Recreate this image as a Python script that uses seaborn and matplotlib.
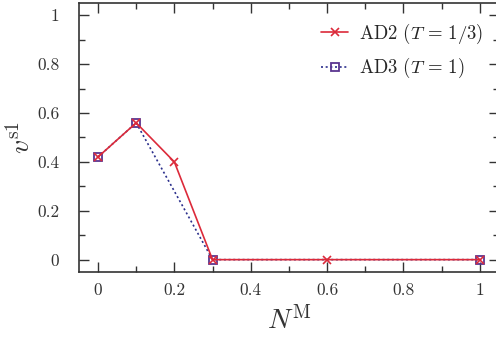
import numpy as np
import pandas as pd
import matplotlib
matplotlib.use("Agg")
import matplotlib.pyplot as plt
from matplotlib.ticker import MultipleLocator, FixedLocator
import seaborn as sns

# data
ad2_x = [0.0, 0.1, 0.2, 0.3, 0.6, 1.0]
ad2_y = [0.42, 0.56, 0.40, 0.0, 0.0, 0.0]
ad3_x = [0.0, 0.1, 0.3, 1.0]
ad3_y = [0.42, 0.56, 0.0, 0.0]
labels = [r"AD2 $(T\,=\,1/3)$", r"AD3 $(T\,=\,1)$"]
x_ticks = [0, 0.2, 0.4, 0.6, 0.8, 1]
x_ticklabels = ["0", "0.2", "0.4", "0.6", "0.8", "1"]
y_ticks = [0, 0.2, 0.4, 0.6, 0.8, 1]
y_ticklabels = ["0", "0.2", "0.4", "0.6", "0.8", "1"]

sns.set_theme(style="ticks")
plt.rcParams["font.family"] = ["cmr10", "DejaVu Serif"]
plt.rcParams["mathtext.fontset"] = "cm"
plt.rcParams["axes.formatter.use_mathtext"] = True

fig = plt.figure(figsize=(4.96, 3.45), dpi=100)
ax = fig.add_axes([0.159, 0.212, 0.847, 0.779])

df2 = pd.DataFrame({"x": ad2_x, "y": ad2_y})
df3 = pd.DataFrame({"x": ad3_x, "y": ad3_y})

red = "#dc2a3a"
blue = "#2b2f8c"
sns.lineplot(data=df3, x="x", y="y", ax=ax, color=blue, linestyle=(0, (1.2, 1.6)),
             linewidth=1.2, marker="s", markersize=5.5, markerfacecolor="none",
             markeredgecolor="#5a3590", markeredgewidth=1.3, label=labels[1], zorder=2)
sns.lineplot(data=df2, x="x", y="y", ax=ax, color=red, linestyle="-",
             linewidth=1.2, marker="x", markersize=6, markeredgewidth=1.2,
             markeredgecolor=red, label=labels[0], zorder=3)

ax.set_xlim(-0.05, 1.05)
ax.set_ylim(-0.05, 1.05)
ax.xaxis.set_major_locator(FixedLocator(x_ticks))
ax.set_xticklabels(x_ticklabels)
ax.yaxis.set_major_locator(FixedLocator(y_ticks))
ax.set_yticklabels(y_ticklabels)
ax.xaxis.set_minor_locator(MultipleLocator(0.1))
ax.yaxis.set_minor_locator(MultipleLocator(0.1))
ax.tick_params(which="both", direction="in", top=True, right=True, color="#333333",
               width=1.0, labelsize=12.5, labelcolor="#333333")
ax.tick_params(which="major", length=7)
ax.tick_params(which="minor", length=4)
ax.tick_params(axis="x", which="both", pad=8)
ax.tick_params(axis="y", which="both", pad=14)
for s in ax.spines.values():
    s.set_color("#333333")
    s.set_linewidth(1.2)

ax.set_xlabel(r"$N^{\mathrm{M}}$", fontsize=20, color="#333333", labelpad=6)
ax.set_ylabel(r"$v^{\mathrm{s1}}$", fontsize=20, color="#333333", labelpad=1)

h, l = ax.get_legend_handles_labels()
order = [l.index(labels[0]), l.index(labels[1])]
ax.legend([h[i] for i in order], [l[i] for i in order], loc="upper right",
          frameon=False, fontsize=13.5, handlelength=1.45, handletextpad=0.6,
          borderaxespad=0.3, labelspacing=0.55, bbox_to_anchor=(0.995, 0.98))

fig.savefig("out.png", dpi=100)
